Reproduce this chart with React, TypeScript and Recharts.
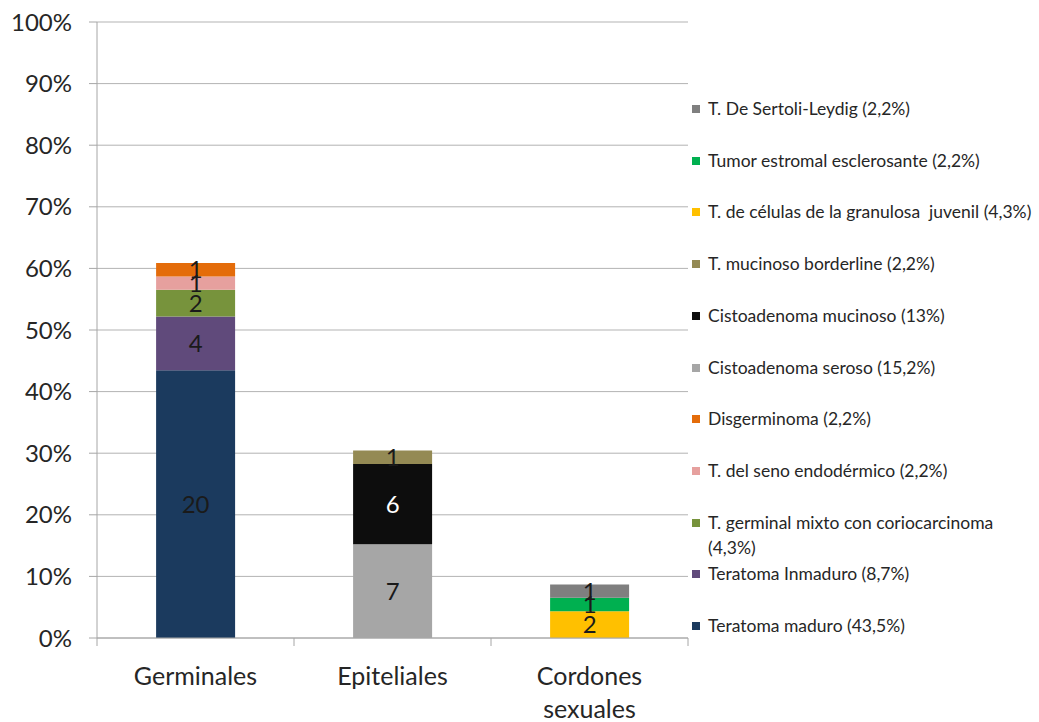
import { BarChart, Bar, XAxis, YAxis, CartesianGrid, LabelList, Legend } from 'recharts';

// --- Tumores de ovario por grupo: numero de casos (n = 46) ---
const categories = ['Germinales', 'Epiteliales', 'Cordones sexuales'];

// series listed bottom-to-top of the stacks
const seriesNames = [
  'Teratoma maduro',
  'Teratoma Inmaduro',
  'T. germinal mixto con coriocarcinoma',
  'T. del seno endodérmico',
  'Disgerminoma',
  'Cistoadenoma seroso',
  'Cistoadenoma mucinoso',
  'T. mucinoso borderline',
  'T. de células de la granulosa  juvenil',
  'Tumor estromal esclerosante',
  'T. De Sertoli-Leydig',
];
const seriesCounts = [20, 4, 2, 1, 1, 7, 6, 1, 2, 1, 1];
const seriesGroup = [0, 0, 0, 0, 0, 1, 1, 1, 2, 2, 2];
const seriesPctText = ['43,5%', '8,7%', '4,3%', '2,2%', '2,2%', '15,2%', '13%', '2,2%', '4,3%', '2,2%', '2,2%'];
const totalCases = 46;

const yTicks = [0, 10, 20, 30, 40, 50, 60, 70, 80, 90, 100];

const COLORS = [
  '#1b3a5e', '#604a7b', '#77933c', '#e6a09e', '#e46c0a',
  '#a6a6a6', '#0d0d0d', '#948a54', '#ffc000', '#00b050', '#7f7f7f',
];

const rows = categories.map((cat, ci) => {
  const row: Record<string, any> = { cat };
  seriesNames.forEach((_, si) => {
    if (seriesGroup[si] === ci) {
      row[`s${si}`] = (seriesCounts[si] / totalCases) * 100;
      row[`n${si}`] = seriesCounts[si];
    } else {
      row[`s${si}`] = null;
      row[`n${si}`] = null;
    }
  });
  return row;
});

const W = 1039;
const H = 722;
const MARGIN = { top: 22, right: 351, bottom: 0, left: 0 };
const Y_AXIS_W = 97;
const X_AXIS_H = 84;
const FONT = 'Lato, "Open Sans", sans-serif';
const halfBand = (W - MARGIN.left - MARGIN.right - Y_AXIS_W) / categories.length / 2;

const CatTick = (props: any) => {
  const { x, y, payload, index } = props;
  const label: string = payload.value;
  const lines = label.length > 12 ? label.split(' ') : [label];
  return (
    <g>
      <line x1={x - halfBand} x2={x - halfBand} y1={y} y2={y + 8} stroke="#a6a6a6" />
      {index === categories.length - 1 && (
        <line x1={x + halfBand} x2={x + halfBand} y1={y} y2={y + 8} stroke="#a6a6a6" />
      )}
      <text x={x} y={y + 47} textAnchor="middle" fontSize={25} fill="#262626" fontFamily={FONT}>
        {lines.map((l, i) => (
          <tspan key={i} x={x} dy={i === 0 ? 0 : 33}>{l}</tspan>
        ))}
      </text>
    </g>
  );
};

const renderLegend = () => {
  const order = seriesNames.map((_, i) => i).reverse();
  return (
    <div style={{ position: 'relative', width: 340, height: 540, fontFamily: FONT }}>
      {order.map((si, k) => (
        <div
          key={si}
          style={{
            position: 'absolute',
            top: k * 51.7,
            left: 0,
            width: 345,
            display: 'flex',
            alignItems: 'flex-start',
            fontSize: 17.5,
            lineHeight: '25px',
            color: '#262626',
          }}
        >
          <span style={{ width: 8, height: 8, background: COLORS[si], marginTop: 9, marginRight: 8, flex: 'none' }} />
          <span style={{ width: 329, whiteSpace: 'pre-wrap' }}>{`${seriesNames[si]} (${seriesPctText[si]})`}</span>
        </div>
      ))}
    </div>
  );
};

export default function App() {
  return (
    <div style={{ position: 'absolute', left: 0, top: 0, width: W, height: H, background: '#fff' }}>
      <BarChart width={W} height={H} data={rows} margin={MARGIN} barCategoryGap="30%">
        <CartesianGrid vertical={false} stroke="#b3b3b3" />
        <XAxis
          dataKey="cat"
          height={X_AXIS_H}
          tickLine={false}
          tickSize={0}
          tickMargin={0}
          axisLine={{ stroke: '#a6a6a6' }}
          tick={<CatTick />}
          interval={0}
        />
        <YAxis
          type="number"
          domain={[0, 100]}
          ticks={yTicks}
          width={Y_AXIS_W}
          tickFormatter={(v) => `${v}%`}
          tickSize={8}
          tickMargin={17}
          tickLine={{ stroke: '#a6a6a6' }}
          axisLine={{ stroke: '#a6a6a6' }}
          tick={{ fontSize: 24, fill: '#262626', fontFamily: FONT }}
        />
        <Legend
          layout="vertical"
          align="center"
          verticalAlign="middle"
          content={renderLegend}
          wrapperStyle={{ left: 692, top: 96, width: 347 }}
        />
        {seriesNames.map((name, si) => (
          <Bar key={name} dataKey={`s${si}`} name={name} stackId="a" fill={COLORS[si]} isAnimationActive={false}>
            <LabelList
              dataKey={`n${si}`}
              position="center"
              fontSize={24}
              fontFamily={FONT}
              fill={si === 6 ? '#ffffff' : '#1a1a1a'}
              formatter={(v: any) => (v == null ? '' : v)}
            />
          </Bar>
        ))}
      </BarChart>
    </div>
  );
}
